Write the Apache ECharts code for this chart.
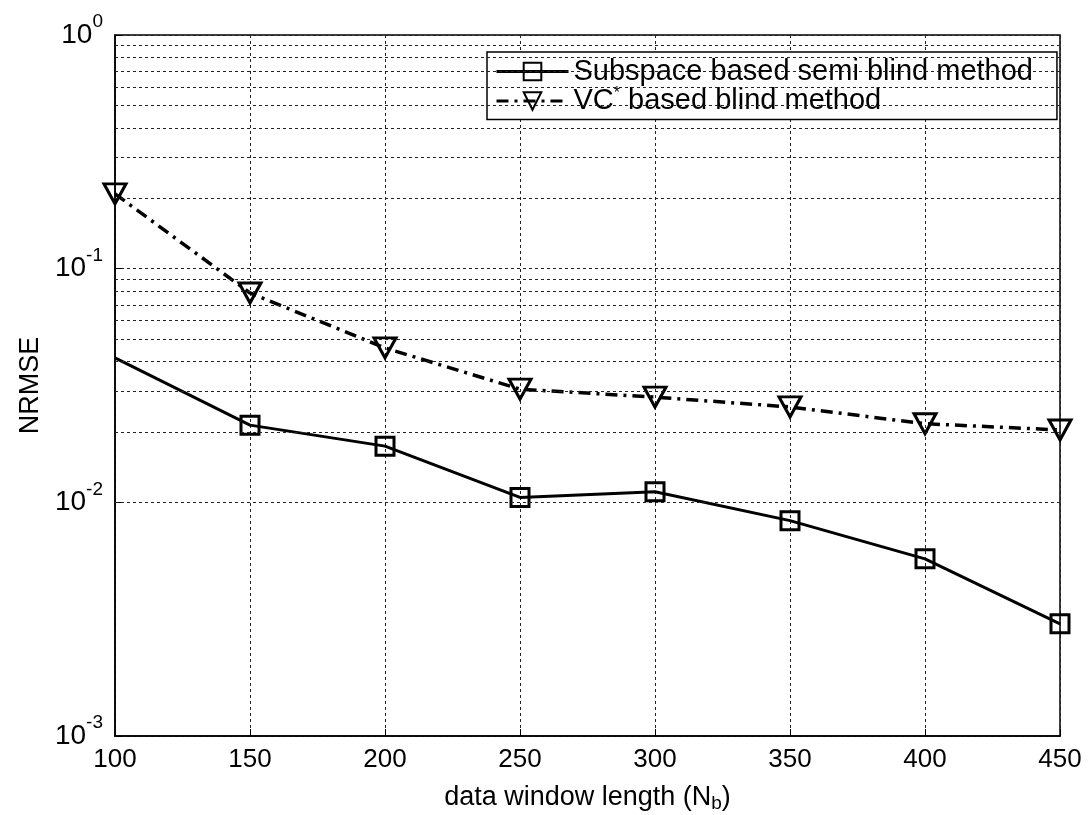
<!DOCTYPE html>
<html>
<head>
<meta charset="utf-8">
<script src="https://cdn.jsdelivr.net/npm/echarts@6/dist/echarts.min.js"></script>
<style>
html,body{margin:0;padding:0;background:#fff;}
#chart{width:1090px;height:815px;}
</style>
</head>
<body>
<div id="chart"></div>
<script>
const xValues = [100, 150, 200, 250, 300, 350, 400, 450];
const subspaceValues = [0.0415, 0.0214, 0.0174, 0.0105, 0.0111, 0.00835, 0.00573, 0.00302];
const vcValues = [0.209, 0.0787, 0.0458, 0.0305, 0.0282, 0.0256, 0.0217, 0.0204];
const seriesNames = ['Subspace based semi blind method', 'VC* based blind method'];
const minorGridValues = [0.002,0.003,0.004,0.005,0.006,0.007,0.008,0.009,
                         0.02,0.03,0.04,0.05,0.06,0.07,0.08,0.09,
                         0.2,0.3,0.4,0.5,0.6,0.7,0.8,0.9];

const FONT = 'Liberation Sans, Arial, sans-serif';
const gridStyle = {color:'#222', width:1, type:[3,3]};

const chart = echarts.init(document.getElementById('chart'), null, {renderer:'canvas'});

const subData = xValues.map((x,i)=> i===0 ? {value:[x, subspaceValues[i]], symbol:'none'} : [x, subspaceValues[i]]);
const vcData = xValues.map((x,i)=> [x, vcValues[i]]);

chart.setOption({
  animation:false,
  backgroundColor:'#fff',
  textStyle:{fontFamily:FONT, color:'#000'},
  grid:{left:115, right:30, top:35, bottom:79, show:true, borderColor:'#000', borderWidth:1.5,
        backgroundColor:'transparent', containLabel:false, outerBoundsMode:'none'},
  xAxis:{
    type:'value', min:100, max:450, interval:50,
    name:'data window length (N{sub|b})',
    nameLocation:'middle', nameGap:47,
    nameTextStyle:{fontSize:27, color:'#000', fontFamily:FONT,
      rich:{sub:{fontSize:19, padding:[11,0,0,0], color:'#000', fontFamily:FONT}}},
    axisLine:{show:true, lineStyle:{color:'#000', width:1.5}},
    axisTick:{show:true, inside:true, length:7, lineStyle:{color:'#000'}},
    axisLabel:{fontSize:26, color:'#000', margin:11, fontFamily:FONT},
    splitLine:{show:true, lineStyle:gridStyle}
  },
  yAxis:{
    type:'log', logBase:10, min:0.001, max:1,
    name:'NRMSE', nameLocation:'middle', nameGap:70,
    nameTextStyle:{fontSize:27, color:'#000', fontFamily:FONT},
    axisLine:{show:true, lineStyle:{color:'#000', width:1.5}},
    axisTick:{show:true, inside:true, length:7, lineStyle:{color:'#000'}},
    axisLabel:{
      margin:12,
      formatter:function(v){
        const e = Math.round(Math.log10(v));
        return '{b|10}{s|' + e + '}';
      },
      rich:{
        b:{fontSize:28, color:'#000', fontFamily:FONT},
        s:{fontSize:19, color:'#000', fontFamily:FONT, padding:[0,0,26,0]}
      }
    },
    splitLine:{show:true, lineStyle:gridStyle}
  },
  legend:{
    orient:'vertical', left:487, top:52,
    backgroundColor:'#fff', borderColor:'#000', borderWidth:1.5,
    padding:[5,24,4,8], itemGap:0, itemWidth:72, itemHeight:22,
    lineStyle:{width:3},
    textStyle:{fontSize:29, color:'#000', fontFamily:FONT,
      rich:{sup:{fontSize:16, color:'#000', padding:[0,0,14,0], fontFamily:FONT}}},
    formatter:function(name){ return name.replace('*','{sup|*}'); },
    data:seriesNames
  },
  series:[
    {
      name:seriesNames[0], type:'line', data:subData,
      symbol:'rect', symbolSize:18,
      lineStyle:{color:'#000', width:3, type:'solid'},
      itemStyle:{color:'rgba(255,255,255,0)', borderColor:'#000', borderWidth:3},
      z:3,
      markLine:{
        silent:true, symbol:['none','none'], label:{show:false},
        lineStyle:gridStyle, animation:false,
        emphasis:{disabled:true},
        data: minorGridValues.map(v=>({yAxis:v}))
      }
    },
    {
      name:seriesNames[1], type:'line', data:vcData,
      symbol:'triangle', symbolRotate:180, symbolSize:[22,20],
      lineStyle:{color:'#000', width:3.5, type:[12,6,3,6]},
      itemStyle:{color:'rgba(255,255,255,0)', borderColor:'#000', borderWidth:3},
      z:3
    }
  ]
});
</script>
</body>
</html>
